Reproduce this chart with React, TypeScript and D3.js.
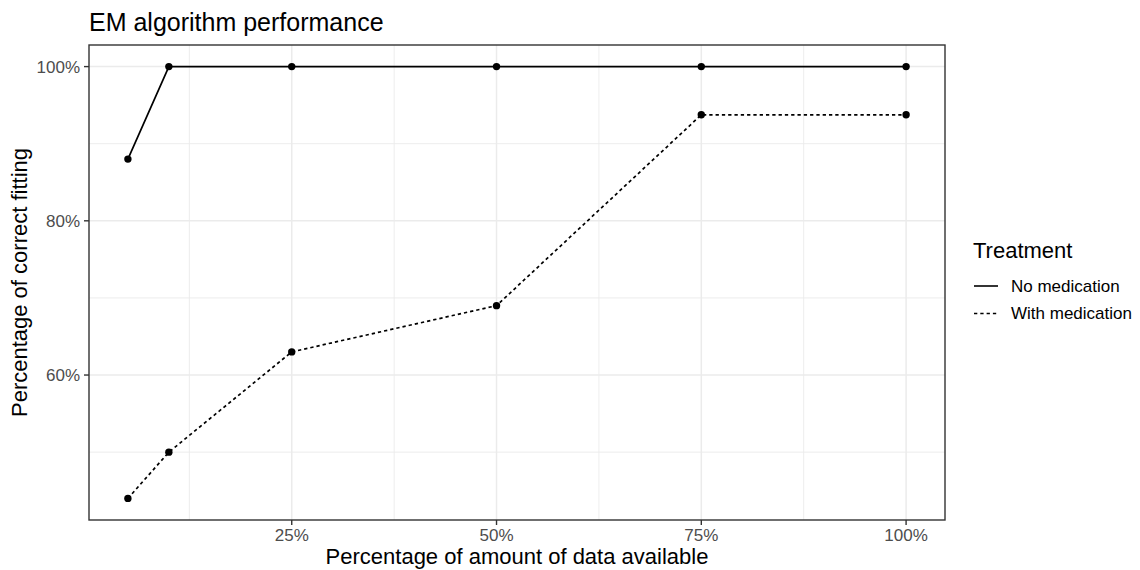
import React from "react";
import * as d3 from "d3";

const xValues = [5, 10, 25, 50, 75, 100];
const noMedication = [88, 100, 100, 100, 100, 100];
const withMedication = [44, 50, 63, 69, 93.75, 93.75];
const xMajorTicks = [25, 50, 75, 100];
const xMinorTicks = [12.5, 37.5, 62.5, 87.5];
const yMajorTicks = [60, 80, 100];
const yMinorTicks = [50, 70, 90];
const seriesNames = ["No medication", "With medication"];
const seriesDash = ["none", "3.3,3"];

const W = 1140;
const H = 570;
const P = { left: 89, right: 945, top: 45, bottom: 520 };
const FONT = "'Liberation Sans', Arial, Helvetica, sans-serif";

export default function App() {
  const xExt = d3.extent(xValues) as [number, number];
  const xPad = (xExt[1] - xExt[0]) * 0.05;
  const x = d3.scaleLinear().domain([xExt[0] - xPad, xExt[1] + xPad]).range([P.left, P.right]);
  const allY = noMedication.concat(withMedication);
  const yMin = d3.min(allY) as number;
  const yMax = d3.max(allY) as number;
  const yPad = (yMax - yMin) * 0.05;
  const y = d3.scaleLinear().domain([yMin - yPad, yMax + yPad]).range([P.bottom, P.top]);

  const line = d3
    .line<[number, number]>()
    .x((d) => x(d[0]))
    .y((d) => y(d[1]));

  const series = [noMedication, withMedication].map((vals) =>
    xValues.map((v, i) => [v, vals[i]] as [number, number])
  );

  const fmt = (v: number) => `${v}%`;

  return (
    <svg
      width={W}
      height={H}
      style={{ position: "absolute", left: 0, top: 0, background: "#fff" }}
      fontFamily={FONT}
    >
      <rect x={0} y={0} width={W} height={H} fill="#fff" />
      {/* minor grid */}
      {xMinorTicks.map((t) => (
        <line key={"xm" + t} x1={x(t)} x2={x(t)} y1={P.top} y2={P.bottom} stroke="#EBEBEB" strokeWidth={0.9} />
      ))}
      {yMinorTicks.map((t) => (
        <line key={"ym" + t} x1={P.left} x2={P.right} y1={y(t)} y2={y(t)} stroke="#EBEBEB" strokeWidth={0.9} />
      ))}
      {/* major grid */}
      {xMajorTicks.map((t) => (
        <line key={"xM" + t} x1={x(t)} x2={x(t)} y1={P.top} y2={P.bottom} stroke="#EBEBEB" strokeWidth={1.5} />
      ))}
      {yMajorTicks.map((t) => (
        <line key={"yM" + t} x1={P.left} x2={P.right} y1={y(t)} y2={y(t)} stroke="#EBEBEB" strokeWidth={1.5} />
      ))}
      {/* lines */}
      {series.map((s, i) => (
        <path
          key={"l" + i}
          d={line(s) || ""}
          fill="none"
          stroke="#000"
          strokeWidth={1.7}
          strokeDasharray={seriesDash[i]}
        />
      ))}
      {series.map((s, i) =>
        s.map((d, j) => <circle key={`p${i}-${j}`} cx={x(d[0])} cy={y(d[1])} r={3.7} fill="#000" />)
      )}
      {/* panel border */}
      <rect
        x={P.left}
        y={P.top}
        width={P.right - P.left}
        height={P.bottom - P.top}
        fill="none"
        stroke="#333333"
        strokeWidth={1.4}
      />
      {/* y axis ticks */}
      {yMajorTicks.map((t) => (
        <g key={"yt" + t}>
          <line x1={P.left - 5} x2={P.left} y1={y(t)} y2={y(t)} stroke="#333333" strokeWidth={1.4} />
          <text x={P.left - 9} y={y(t)} dy="0.35em" textAnchor="end" fontSize={17} fill="#4D4D4D">
            {fmt(t)}
          </text>
        </g>
      ))}
      {/* x axis ticks */}
      {xMajorTicks.map((t) => (
        <g key={"xt" + t}>
          <line x1={x(t)} x2={x(t)} y1={P.bottom} y2={P.bottom + 5} stroke="#333333" strokeWidth={1.4} />
          <text x={x(t)} y={541} textAnchor="middle" fontSize={17} fill="#4D4D4D">
            {fmt(t)}
          </text>
        </g>
      ))}
      {/* axis titles */}
      <text x={(P.left + P.right) / 2} y={564} textAnchor="middle" fontSize={22} fill="#000">
        Percentage of amount of data available
      </text>
      <text
        transform={`translate(27,${(P.top + P.bottom) / 2}) rotate(-90)`}
        textAnchor="middle"
        fontSize={22}
        fill="#000"
      >
        Percentage of correct fitting
      </text>
      {/* title */}
      <text x={P.left} y={31} fontSize={25} fill="#000">
        EM algorithm performance
      </text>
      {/* legend */}
      <text x={973} y={258} fontSize={22} fill="#000">
        Treatment
      </text>
      {seriesNames.map((name, i) => (
        <g key={"lg" + i}>
          <line
            x1={974}
            x2={998}
            y1={286 + i * 27.5}
            y2={286 + i * 27.5}
            stroke="#000"
            strokeWidth={1.6}
            strokeDasharray={seriesDash[i]}
          />
          <text x={1011} y={286 + i * 27.5} dy="0.35em" fontSize={17} fill="#000">
            {name}
          </text>
        </g>
      ))}
    </svg>
  );
}
